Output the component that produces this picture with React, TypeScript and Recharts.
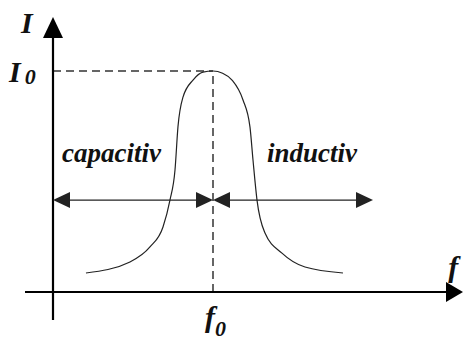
import React from "react";
import { ComposedChart, Line, XAxis, YAxis, ReferenceLine, ReferenceDot } from "recharts";

// Normalised resonance curve: f / f0 and I / I0
const freq = [0.206, 0.481, 0.606, 0.6875, 0.731, 0.7625, 0.781, 0.8125, 0.875, 0.9375, 1.0, 1.06, 1.119, 1.1875, 1.231, 1.25, 1.275, 1.325, 1.431, 1.575, 1.8125];
const current = [0.086, 0.136, 0.204, 0.294, 0.416, 0.552, 0.747, 0.882, 0.959, 0.995, 1.0, 0.99, 0.959, 0.869, 0.747, 0.597, 0.416, 0.267, 0.176, 0.113, 0.086];

const xDomain = [-0.33125, 2.575];
const yDomain = [-0.2308, 1.3213];

const f0 = 1;
const I0 = 1;
const regionLevel = 0.416;
const regionLeft = 0;
const regionRight = 2.0;
const axisXStart = -0.175;
const axisXEnd = 2.5625;
const axisYStart = -0.1267;
const axisYEnd = 1.244;

const labels = { capacitive: "capacitiv", inductive: "inductiv", yName: "I", xName: "f", y0: "I", x0: "f", sub: "0" };

const data = freq.map((f, i) => ({ f, i: current[i] }));

const FONT = "'Liberation Serif', 'Times New Roman', serif";

type ArrowOpts = { start: boolean; end: boolean; L: number; W: number; sw: number; color: string };

const arrowShape = (o: ArrowOpts) => (p: any) => {
  const { x1, y1, x2, y2 } = p;
  const dx = x2 - x1;
  const dy = y2 - y1;
  const len = Math.hypot(dx, dy) || 1;
  const ux = dx / len;
  const uy = dy / len;
  const nx = -uy;
  const ny = ux;
  const head = (tx: number, ty: number, s: number) => {
    const bx = tx - s * o.L * ux;
    const by = ty - s * o.L * uy;
    return `${tx},${ty} ${bx + o.W * nx},${by + o.W * ny} ${bx - o.W * nx},${by - o.W * ny}`;
  };
  const sx = o.start ? x1 + (o.L - 1) * ux : x1;
  const sy = o.start ? y1 + (o.L - 1) * uy : y1;
  const ex = o.end ? x2 - (o.L - 1) * ux : x2;
  const ey = o.end ? y2 - (o.L - 1) * uy : y2;
  return (
    <g>
      <line x1={sx} y1={sy} x2={ex} y2={ey} stroke={o.color} strokeWidth={o.sw} />
      {o.start && <polygon points={head(x1, y1, -1)} fill={o.color} />}
      {o.end && <polygon points={head(x2, y2, 1)} fill={o.color} />}
    </g>
  );
};

const textShape = (text: string, size: number, sub?: string, subSize?: number, subDx?: number, subDy?: number) => (p: any) => (
  <text x={p.cx} y={p.cy} fontFamily={FONT} fontStyle="italic" fontWeight="bold" fontSize={size} fill="#111">
    {text}
    {sub && (
      <tspan dx={subDx} dy={subDy} fontSize={subSize}>
        {sub}
      </tspan>
    )}
  </text>
);

export default function App() {
  return (
    <div style={{ position: "absolute", left: 0, top: 0, background: "#fff" }}>
      <ComposedChart width={465} height={343} data={data} margin={{ top: 0, right: 0, bottom: 0, left: 0 }}>
        <XAxis type="number" dataKey="f" domain={xDomain} hide allowDataOverflow />
        <YAxis type="number" domain={yDomain} hide allowDataOverflow />
        {/* dashed guides */}
        <ReferenceLine segment={[{ x: 0, y: I0 }, { x: f0, y: I0 }]} stroke="#333" strokeWidth={1.5} strokeDasharray="8 5" />
        <ReferenceLine segment={[{ x: f0, y: 0 }, { x: f0, y: I0 }]} stroke="#333" strokeWidth={1.5} strokeDasharray="8 5" />
        {/* axes */}
        <ReferenceLine
          segment={[{ x: axisXStart, y: 0 }, { x: axisXEnd, y: 0 }]}
          shape={arrowShape({ start: false, end: true, L: 17, W: 10, sw: 2.2, color: "#000" })}
        />
        <ReferenceLine
          segment={[{ x: 0, y: axisYStart }, { x: 0, y: axisYEnd }]}
          shape={arrowShape({ start: false, end: true, L: 21, W: 10, sw: 2.2, color: "#000" })}
        />
        {/* region arrows */}
        <ReferenceLine
          segment={[{ x: regionLeft, y: regionLevel }, { x: f0, y: regionLevel }]}
          shape={arrowShape({ start: true, end: true, L: 17, W: 8, sw: 1.3, color: "#222" })}
        />
        <ReferenceLine
          segment={[{ x: f0, y: regionLevel }, { x: regionRight, y: regionLevel }]}
          shape={arrowShape({ start: true, end: true, L: 17, W: 8, sw: 1.3, color: "#222" })}
        />
        <Line
          type="monotone"
          dataKey="i"
          stroke="#222"
          strokeWidth={1.2}
          fill="none"
          dot={false}
          activeDot={false}
          legendType="none"
          isAnimationActive={false}
        />
        {/* text */}
        <ReferenceDot x={-0.2} y={1.172} r={0} ifOverflow="visible" shape={textShape(labels.yName, 30)} />
        <ReferenceDot x={-0.275} y={0.95} r={0} ifOverflow="visible" shape={textShape(labels.y0, 30, labels.sub, 22, 4, 2)} />
        <ReferenceDot x={0.056} y={0.588} r={0} ifOverflow="visible" shape={textShape(labels.capacitive, 27)} />
        <ReferenceDot x={1.3375} y={0.588} r={0} ifOverflow="visible" shape={textShape(labels.inductive, 27)} />
        <ReferenceDot x={2.47} y={0.068} r={0} ifOverflow="visible" shape={textShape(labels.xName, 30)} />
        <ReferenceDot x={0.95} y={-0.158} r={0} ifOverflow="visible" shape={textShape(labels.x0, 30, labels.sub, 22, 0, 9)} />
      </ComposedChart>
    </div>
  );
}
